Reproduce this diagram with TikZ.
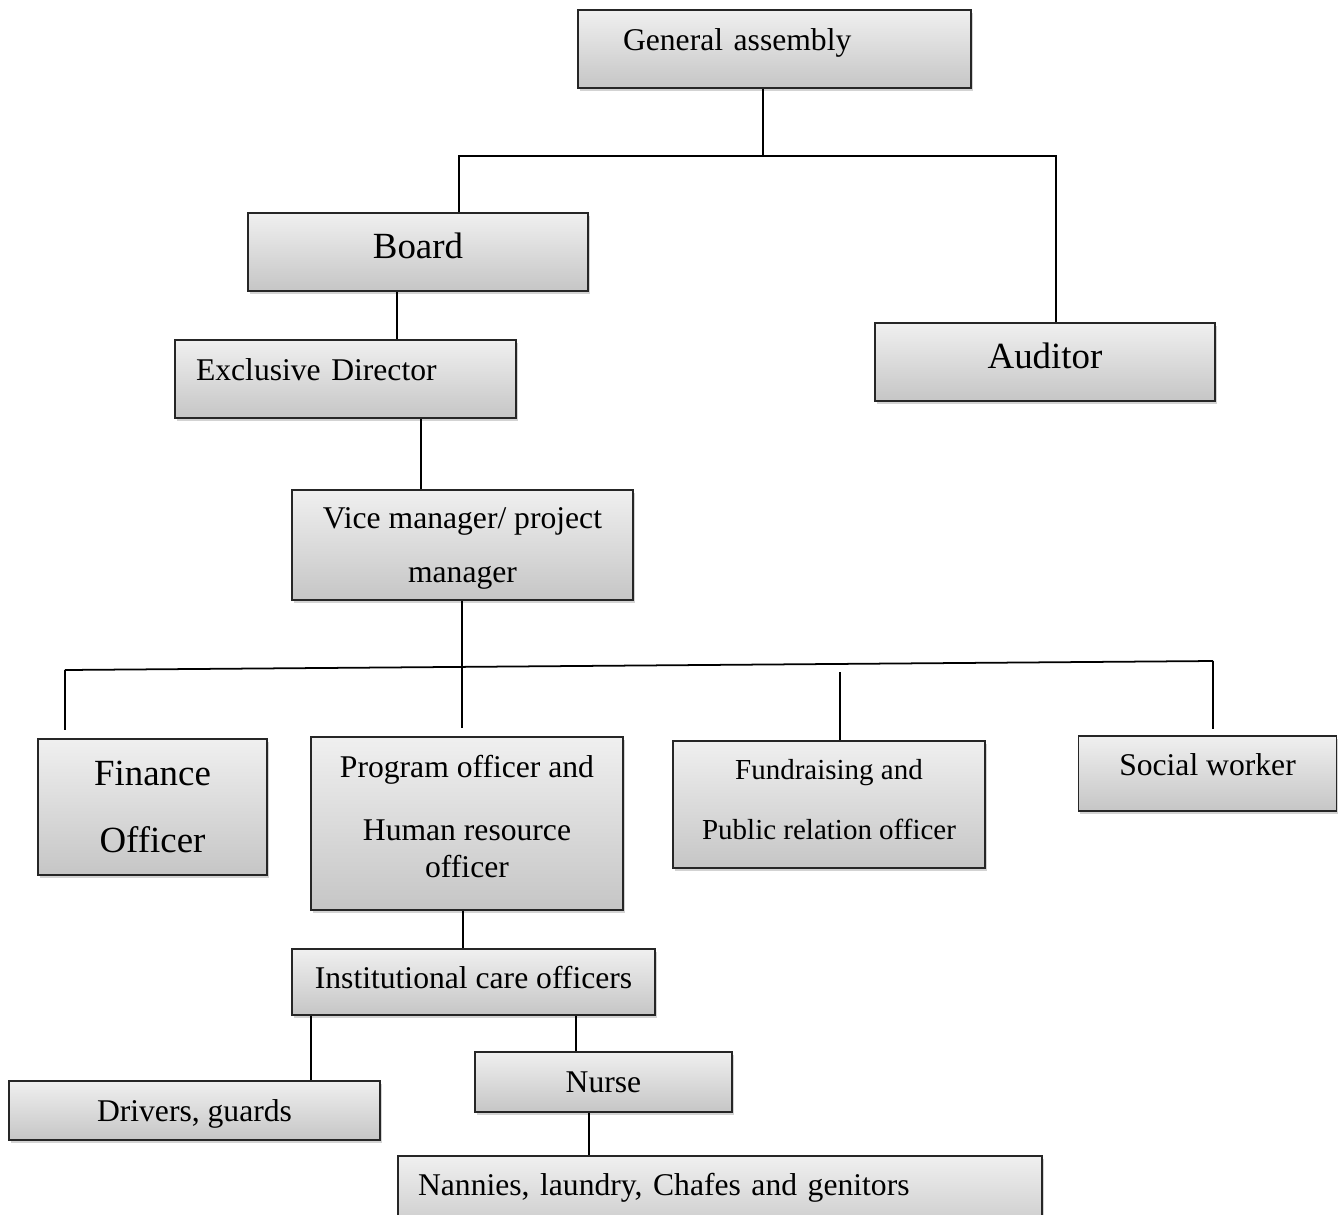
\documentclass[tikz,border=0pt]{standalone}
\usepackage{fontspec}
\setmainfont{Liberation Serif}
\usepackage{tikz}
\usetikzlibrary{shadows}

\tikzset{
  orgbox/.style={draw=black!85, line width=1pt, top color=gray!12, bottom color=gray!45,
    drop shadow={shadow xshift=1pt, shadow yshift=-1.6pt, opacity=0.35},
    inner sep=0pt, font=\fontsize{18}{21}\selectfont},
  bigfont/.style={font=\fontsize{21}{25}\selectfont},
  lift/.style={text height=16.4pt, text depth=#1},
  lift/.default=4pt,
  biglift/.style={text height=18.4pt, text depth=#1},
  link/.style={line width=1pt, black},
}

\begin{document}
\begin{tikzpicture}[x=0.02cm, y=-0.02cm]
  \useasboundingbox (0,0) rectangle (1338,1214);
  \clip (0,0) rectangle (1338,1214);

  % top levels
  \node [orgbox, lift=14.2pt, minimum width=7.86cm, minimum height=1.56cm,
    text width=6.06cm, align=left] (ga) at (774.5,49) {General assembly};
  \node [orgbox, bigfont, biglift=11.5pt, minimum width=6.8cm,
    minimum height=1.56cm] (board) at (418,252) {Board};
  \node [orgbox, bigfont, biglift=11.5pt, minimum width=6.8cm,
    minimum height=1.56cm] (auditor) at (1045,362) {Auditor};
  \node [orgbox, lift=14.2pt, minimum width=6.82cm, minimum height=1.56cm,
    text width=5.98cm, align=left] (exdir) at (345.5,379) {Exclusive Director};
  \node [orgbox, align=center, text depth=0pt, minimum width=6.82cm, minimum height=2.2cm]
    (vice) at (462.5,545) {Vice manager/ project\\[10pt]manager};

  % officers
  \node [orgbox, bigfont, align=center, minimum width=4.58cm, minimum height=2.72cm]
    (finance) at (152.5,807) {Finance\\[13.6pt]Officer};
  \node [orgbox, align=center, text depth=8pt, minimum width=6.24cm, minimum height=3.46cm]
    (program) at (467,823.5) {Program officer and\\[14.7pt]Human resource\\officer};
  \node [orgbox, font=\fontsize{16.5}{20}\selectfont, align=center, text depth=5.7pt,
    minimum width=6.24cm, minimum height=2.54cm]
    (fundr) at (829,804.5) {Fundraising and\\[14pt]Public relation officer};
  \node [orgbox, lift=14.2pt, minimum width=5.16cm, minimum height=1.5cm]
    (social) at (1207.5,773.5) {Social worker};

  % care staff
  \node [orgbox, lift=8.6pt, minimum width=7.26cm, minimum height=1.32cm]
    (inst) at (473.5,982) {Institutional care officers};
  \node [orgbox, lift, minimum width=7.42cm, minimum height=1.18cm]
    (drivers) at (194.5,1110.5) {Drivers, guards};
  \node [orgbox, lift, minimum width=5.14cm, minimum height=1.2cm]
    (nurse) at (603.5,1082) {Nurse};
  \node [orgbox, lift=18.8pt, minimum width=12.88cm, minimum height=1.68cm,
    text width=12.08cm, align=left] (nannies) at (720,1198)
    {Nannies, laundry, Chafes and genitors};

  % connectors
  \coordinate (jga) at (763,156);
  \coordinate (jboard) at (459,156);
  \coordinate (jaud) at (1056,156);
  \draw [link] (ga.south -| jga) -- (jga);
  \draw [link] (board.north -| jboard) -- (jboard) -- (jaud) -- (auditor.north -| jaud);

  \coordinate (jbe) at (397,0);
  \draw [link] (board.south -| jbe) -- (exdir.north -| jbe);
  \coordinate (jev) at (421,0);
  \draw [link] (exdir.south -| jev) -- (vice.north -| jev);

  \coordinate (busl) at (65,670);
  \coordinate (busr) at (1213,661);
  \coordinate (jvp) at (462,0);
  \coordinate (jfund) at (840,672);
  \draw [link] (busl) -- (busr);
  \draw [link, shorten >=4.5pt] (vice.south -| jvp) -- (program.north -| jvp);
  \draw [link, shorten >=4.5pt] (busl) -- (finance.north -| busl);
  \draw [link, shorten >=3.4pt] (busr) -- (social.north -| busr);
  \draw [link] (jfund) -- (fundr.north -| jfund);

  \coordinate (jpi) at (463,0);
  \draw [link] (program.south -| jpi) -- (inst.north -| jpi);
  \coordinate (jid) at (311,0);
  \draw [link] (inst.south -| jid) -- (drivers.north -| jid);
  \coordinate (jin) at (576,0);
  \draw [link] (inst.south -| jin) -- (nurse.north -| jin);
  \coordinate (jnn) at (589,0);
  \draw [link] (nurse.south -| jnn) -- (nannies.north -| jnn);
\end{tikzpicture}
\end{document}
